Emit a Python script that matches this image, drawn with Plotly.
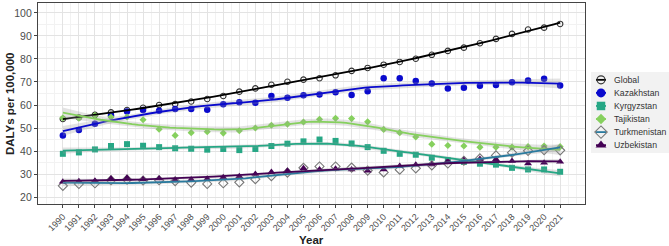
import numpy as np
import plotly.graph_objects as go

years = list(range(1990, 2022))
countries = ["Global", "Kazakhstan", "Kyrgyzstan", "Tajikistan", "Turkmenistan", "Uzbekistan"]

global_v = [53.9, 54.6, 55.7, 56.8, 57.8, 58.8, 60.0, 60.4, 61.5, 62.6, 63.9, 65.8, 67.2, 68.8, 70.1, 71.0,
            71.6, 72.9, 74.8, 76.1, 77.5, 78.7, 80.1, 81.8, 83.5, 84.9, 86.8, 88.7, 90.9, 92.8, 93.6, 95.2]
kazakhstan = [46.7, 49.1, 51.9, 55.4, 57.2, 57.8, 57.5, 58.3, 58.3, 57.9, 60.3, 61.2, 61.0, 63.9, 63.2, 64.2,
              64.6, 65.5, 64.3, 66.0, 71.6, 71.6, 70.4, 69.3, 67.2, 67.5, 68.4, 68.7, 69.9, 70.6, 71.4, 68.5]
kyrgyzstan = [38.8, 39.4, 40.7, 42.2, 43.0, 42.3, 41.7, 41.2, 41.0, 40.6, 40.9, 40.4, 40.9, 42.2, 43.2, 44.2,
              45.0, 44.4, 43.3, 41.7, 40.1, 38.8, 38.4, 37.1, 36.0, 35.3, 34.5, 34.1, 32.7, 32.0, 32.0, 31.0]
tajikistan = [54.4, 54.3, 55.5, 54.8, 54.8, 53.6, 49.5, 46.8, 48.0, 48.4, 47.8, 48.8, 50.0, 51.2, 51.7, 52.6,
              53.8, 54.2, 54.1, 52.7, 49.4, 48.0, 46.1, 43.0, 42.4, 42.2, 41.7, 41.7, 41.7, 41.9, 42.2, 41.9]
turkmenistan = [24.9, 25.7, 26.0, 27.3, 27.6, 27.2, 27.3, 26.9, 26.3, 25.7, 26.0, 26.4, 27.8, 29.1, 30.6, 32.7,
                33.3, 33.3, 32.8, 31.5, 30.7, 31.9, 32.5, 33.8, 34.6, 35.8, 36.8, 38.1, 39.3, 40.1, 40.4, 40.3]
uzbekistan = [26.7, 26.9, 27.1, 28.1, 28.4, 27.8, 28.1, 27.4, 27.6, 28.0, 28.6, 29.1, 30.0, 30.9, 31.4, 32.5,
              32.0, 32.3, 32.0, 31.4, 32.0, 33.5, 34.1, 34.2, 35.7, 36.1, 36.5, 36.4, 35.7, 34.6, 34.9, 35.3]

series = [global_v, kazakhstan, kyrgyzstan, tajikistan, turkmenistan, uzbekistan]
line_colors = ["#000000", "#0A0ACD", "#26A785", "#86D05E", "#2A7A9E", "#440154"]
mk_colors = ["#333333", "#0A0ACD", "#26A785", "#86D05E", "#777777", "#440154"]
symbols = ["circle-open", "circle", "square", "diamond", "diamond-open", "triangle-up"]
sizes = [5.5, 6.5, 6, 5.5, 7, 7]
y_ticks = [20, 30, 40, 50, 60, 70, 80, 90, 100]


def loess(x, y, xg, span=0.75):
    x = np.asarray(x, float); y = np.asarray(y, float)
    n = len(x)
    q = int(np.floor(n * span))

    def lrow(x0):
        d = np.abs(x - x0)
        h = np.sort(d)[q - 1]
        u = d / h
        w = np.where(u < 1, (1 - u ** 3) ** 3, 0.0)
        X = np.vstack([np.ones(n), x - x0, (x - x0) ** 2]).T
        A = X.T @ (w[:, None] * X)
        return np.linalg.solve(A, X.T * w)[0]

    L = np.array([lrow(v) for v in x])
    I = np.eye(n)
    M = (I - L).T @ (I - L)
    d1 = np.trace(M); d2 = np.trace(M @ M)
    res = y - L @ y
    sigma = np.sqrt(res @ res / d1)
    Lg = np.array([lrow(v) for v in xg])
    fit = Lg @ y
    se = sigma * np.sqrt((Lg ** 2).sum(1))
    df = d1 ** 2 / d2
    z = 1.959964
    t = z + (z ** 3 + z) / (4 * df) + (5 * z ** 5 + 16 * z ** 3 + 3 * z) / (96 * df ** 2)
    return fit, fit - t * se, fit + t * se


fig = go.Figure()
xr = np.array(years, float) - 1990
xg = np.linspace(xr.min(), xr.max(), 80)

# points
for name, vals, mc, sym, sz in zip(countries, series, mk_colors, symbols, sizes):
    op = sym.endswith("open")
    fig.add_trace(go.Scatter(x=years, y=vals, mode="markers", name=name, showlegend=False,
                             marker=dict(symbol=sym, size=sz, color=mc,
                                         line=dict(width=1.1 if op else 0, color=mc))))

# smooths (loess, span 0.75, with 95% band)
for name, vals, lc in zip(countries, series, line_colors):
    fit, lo, hi = loess(xr, vals, xg)
    xx = xg + 1990
    fig.add_trace(go.Scatter(x=np.concatenate([xx, xx[::-1]]), y=np.concatenate([hi, lo[::-1]]),
                             fill="toself", fillcolor="rgba(153,153,153,0.28)", line=dict(width=0),
                             mode="lines", showlegend=False, hoverinfo="skip"))
    fig.add_trace(go.Scatter(x=xx, y=fit, mode="lines", name=name,
                             line=dict(color=lc, width=1.8), showlegend=False))

# legend drawn on a helper axis (keys + labels)
font = "Liberation Sans, Arial, sans-serif"
n = len(countries)
for i, (name, lc, mc, sym, sz) in enumerate(zip(countries, line_colors, mk_colors, symbols, sizes)):
    op = sym.endswith("open")
    fig.add_trace(go.Scatter(x=[5, 15], y=[i, i], mode="lines", line=dict(color=lc, width=1.8),
                             xaxis="x2", yaxis="y2", showlegend=False, hoverinfo="skip"))
    fig.add_trace(go.Scatter(x=[10], y=[i], mode="markers", xaxis="x2", yaxis="y2", showlegend=False,
                             hoverinfo="skip",
                             marker=dict(symbol=sym, size=sz + 2.5, color=mc,
                                         line=dict(width=1.1 if op else 0, color=mc))))
    fig.add_annotation(x=21, y=i, xref="x2", yref="y2", text=name, showarrow=False,
                       xanchor="left", yanchor="middle",
                       font=dict(size=8.7, color="#333333", family=font))

W = 631.0  # plot-area width (669 - 38)
main_right = (585 - 38) / W
leg_left = (591 - 38) / W
fig.add_shape(type="rect", xref="x2", yref="y2", x0=0, x1=78, y0=-0.6, y1=n - 0.4,
              fillcolor="#F2F2F2", line=dict(width=0), layer="below")

fig.update_layout(
    width=669, height=246,
    margin=dict(l=38, r=0, t=3, b=42, autoexpand=False),
    paper_bgcolor="white", plot_bgcolor="white",
    font=dict(family=font, color="#4D4D4D"),
    showlegend=False,
    xaxis=dict(domain=[0, main_right], range=[1988.45, 2022.55], tickmode="array", tickvals=years,
               ticktext=[str(y) for y in years], automargin=False,
               tickangle=-45, tickfont=dict(size=9, color="#4D4D4D"),
               showgrid=True, gridcolor="#E3E3E3", gridwidth=1,
               minor=dict(dtick=0.5, tick0=1990, showgrid=True, gridcolor="#F2F2F2"),
               showline=True, linecolor="#444444", linewidth=1.2, mirror=True,
               ticks="outside", ticklen=3, tickcolor="#444444", zeroline=False),
    yaxis=dict(range=[17, 104.3], tickmode="array", tickvals=y_ticks, automargin=False,
               tickfont=dict(size=10.5, color="#4D4D4D"),
               showgrid=True, gridcolor="#E3E3E3", gridwidth=1,
               minor=dict(dtick=5, tick0=0, showgrid=True, gridcolor="#F2F2F2"),
               showline=True, linecolor="#444444", linewidth=1.2, mirror=True,
               ticks="outside", ticklen=3, tickcolor="#444444", zeroline=False),
    xaxis2=dict(domain=[leg_left, 1], range=[0, 78], visible=False, fixedrange=True,
                automargin=False, anchor="y2"),
    yaxis2=dict(domain=[(204 - 153) / 201, (204 - 72) / 201], range=[n - 0.4, -0.6],
                visible=False, fixedrange=True, anchor="x2", automargin=False),
)

fig.add_annotation(x=(311 - 38) / W, y=(204 - 240) / 201, xref="paper", yref="paper",
                   text="<b>Year</b>", showarrow=False, xanchor="center", yanchor="middle",
                   font=dict(size=11.5, color="#222222", family=font))
fig.add_annotation(x=(10 - 38) / W, y=(204 - 104) / 201, xref="paper", yref="paper",
                   text="<b>DALYs per 100,000</b>", showarrow=False, textangle=-90,
                   xanchor="center", yanchor="middle",
                   font=dict(size=11.5, color="#222222", family=font))

fig.write_html("out.html", config={"displayModeBar": False},
               post_script="document.body.style.margin='0';document.body.style.overflow='hidden';")
